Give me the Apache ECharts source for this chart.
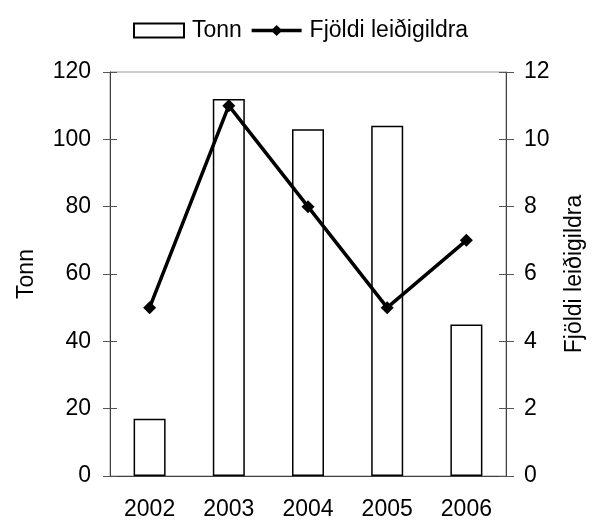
<!DOCTYPE html>
<html>
<head>
<meta charset="utf-8">
<script src="https://cdn.jsdelivr.net/npm/echarts@6/dist/echarts.min.js"></script>
<style>
  html, body { margin: 0; padding: 0; background: #fff; }
  #chart { width: 594px; height: 521px; }
</style>
</head>
<body>
<div id="chart"></div>
<script>
// gögn lesin af myndinni
const years = ['2002', '2003', '2004', '2005', '2006']
const tonn = [17, 112, 103, 104, 45]
const fjoldi = [5, 11, 8, 5, 7]

const FONT = '"Liberation Sans", Arial, sans-serif'
const FS = 23
const axisColor = '#404040'
const tickColor = '#555'

// hjálparás: stutt strik inn á við svo merkin skeri ásinn
const innerTicks = (position, max, interval) => ({
  type: 'value',
  position,
  min: 0,
  max,
  interval,
  axisLine: { show: false },
  axisTick: { show: true, inside: true, length: 7, lineStyle: { color: tickColor } },
  axisLabel: { show: false },
  splitLine: { show: false }
})

const chart = echarts.init(document.getElementById('chart'))

chart.setOption({
  animation: false,
  backgroundColor: '#fff',
  textStyle: { fontFamily: FONT, color: '#000' },
  legend: {
    left: 128,
    top: 14,
    itemWidth: 50,
    itemHeight: 14,
    itemGap: 8,
    textStyle: { fontSize: FS, color: '#000', fontFamily: FONT, padding: [0, 0, 0, 3] },
    data: [
      { name: 'Tonn', icon: 'rect' },
      {
        name: 'Fjöldi leiðigildra',
        lineStyle: { width: 3.5, color: '#000' },
        itemStyle: { color: '#000' }
      }
    ]
  },
  grid: {
    left: 110,
    right: 88,
    top: 72,
    bottom: 45,
    show: true,
    borderColor: '#999',
    borderWidth: 1
  },
  xAxis: {
    type: 'category',
    data: years,
    axisLine: { lineStyle: { color: axisColor, width: 1 } },
    axisTick: { length: 8, lineStyle: { color: tickColor } },
    axisLabel: { fontSize: FS, color: '#000', margin: 22, fontFamily: FONT }
  },
  yAxis: [
    {
      type: 'value',
      position: 'left',
      min: 0,
      max: 120,
      interval: 20,
      name: 'Tonn',
      nameLocation: 'middle',
      nameGap: 72,
      nameTextStyle: { fontSize: FS, color: '#000', fontFamily: FONT },
      axisLine: { show: true, lineStyle: { color: axisColor } },
      axisTick: { show: true, length: 7, lineStyle: { color: tickColor } },
      axisLabel: { fontSize: FS, color: '#000', margin: 19, fontFamily: FONT },
      splitLine: { show: false }
    },
    {
      type: 'value',
      position: 'right',
      min: 0,
      max: 12,
      interval: 2,
      name: 'Fjöldi leiðigildra',
      nameLocation: 'middle',
      nameGap: 57,
      nameTextStyle: { fontSize: FS, color: '#000', fontFamily: FONT },
      axisLine: { show: true, lineStyle: { color: axisColor } },
      axisTick: { show: true, length: 8, lineStyle: { color: tickColor } },
      axisLabel: { fontSize: FS, color: '#000', margin: 18, fontFamily: FONT },
      splitLine: { show: false }
    },
    innerTicks('left', 120, 20),
    innerTicks('right', 12, 2)
  ],
  series: [
    {
      name: 'Tonn',
      type: 'bar',
      data: tonn,
      yAxisIndex: 0,
      barWidth: 32,
      itemStyle: { color: '#fff', borderColor: '#000', borderWidth: 1.5 },
      z: 2
    },
    {
      name: 'Fjöldi leiðigildra',
      type: 'line',
      data: fjoldi,
      yAxisIndex: 1,
      symbol: 'diamond',
      symbolSize: 13,
      itemStyle: { color: '#000' },
      lineStyle: { color: '#000', width: 3.5 },
      z: 3
    }
  ]
})
</script>
</body>
</html>
